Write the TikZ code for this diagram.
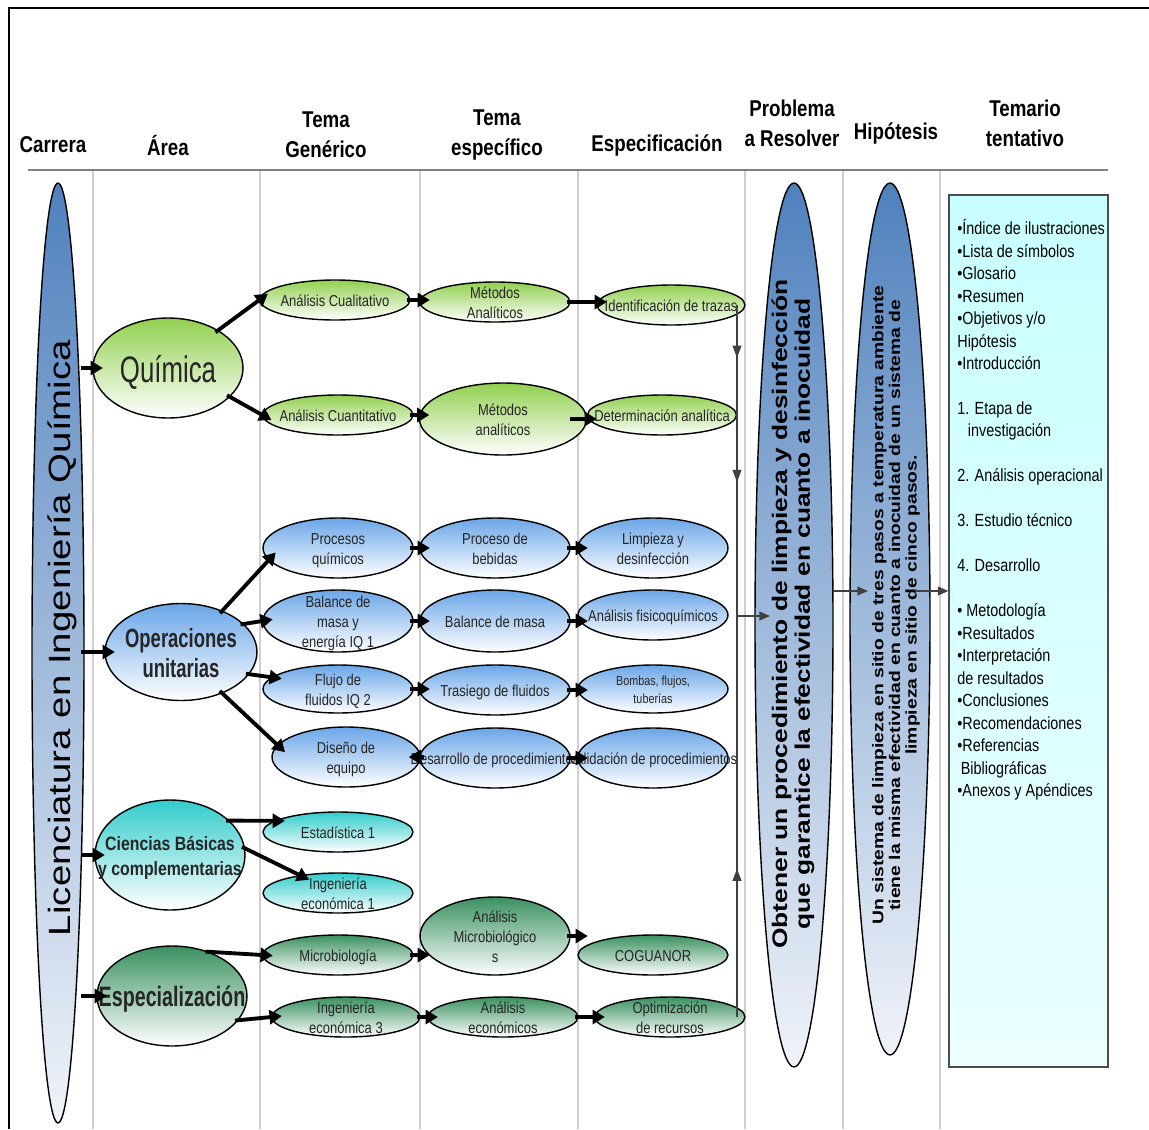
\documentclass[tikz,border=0pt]{standalone}
\usepackage{fontspec}
\setmainfont{Liberation Sans}
\newfontfamily\narrowfont[FakeStretch=0.82]{Liberation Sans}
\newfontfamily\condfont[FakeStretch=0.7]{Liberation Sans}
\newfontfamily\widefont[FakeStretch=1.25]{Liberation Sans}
\usetikzlibrary{arrows.meta, shapes.geometric, calc, decorations.markings}
\definecolor{carblue}{HTML}{4F81BD}
\definecolor{paleblue}{HTML}{F0F3F9}
\definecolor{qgreen}{HTML}{92D050}
\definecolor{opblue}{HTML}{6AA6E8}
\definecolor{cbteal}{HTML}{33CCCC}
\definecolor{spgreen}{HTML}{3A9160}
\definecolor{colgray}{HTML}{CFCFCF}
\definecolor{rulegray}{HTML}{808080}
\definecolor{boxcyan}{HTML}{C8FFFF}
% text that does not size its ellipse
\newcommand{\otext}[1]{\smash{\makebox[0pt]{\raisebox{-0.4em}{\begin{tabular}{@{}c@{}}#1\end{tabular}}}}}

\begin{document}
\begin{tikzpicture}[x=0.02cm, y=-0.02cm,
  oval/.style={ellipse, draw=black, line width=0.8pt, inner sep=0pt,
    text=black!85, font=\narrowfont\fontsize{9}{11.4}\selectfont},
  grn/.style={oval, top color=qgreen, bottom color=white},
  blu/.style={oval, top color=opblue, bottom color=white},
  tea/.style={oval, top color=cbteal, bottom color=white},
  dkg/.style={oval, top color=spgreen, bottom color=white},
  tall/.style={ellipse, draw=black, line width=0.8pt, inner sep=0pt,
    top color=carblue, bottom color=paleblue},
  head/.style={font=\narrowfont\bfseries\fontsize{13}{17}\selectfont, align=center},
  flow/.style={line width=2.2pt, -{Triangle[length=7pt,width=8pt]},
    shorten <=-2pt, shorten >=-6pt},
  rail/.style={line width=0.8pt, draw=black!75},
  conn/.style={rail, -{Triangle[length=6pt,width=5pt]}},
  ]

% Background and frame
\useasboundingbox (0,0) rectangle (1149,1129);
\fill[white] (0,0) rectangle (1149,1129);
\draw[black, line width=1.2pt] (1149,8) -- (9,8) -- (9,1129);

% Column rules
\foreach \cx in {93,260,420,578,745,843,940}
  \draw[colgray, line width=1.3pt] (\cx,170) -- (\cx,1129);
\draw[rulegray, line width=1.5pt] (28,170) -- (1108,170);

% Headers
\node[head] (hcar) at (53,145) {Carrera};
\node[head] (hare) at (168,145) {Área};
\node[head] (hgen) at (326,135) {Tema\\Genérico};
\node[head] (hesp) at (497,135) {Tema\\específico};
\node[head] (hspc) at (657,145) {Especificación};
\node[head] (hpro) at (792,123) {Problema\\a Resolver};
\node[head] (hhip) at (896,133) {Hipótesis};
\node[head] (htem) at (1025,123) {Temario\\tentativo};

% Carrera
\node[tall, minimum width=1.04cm, minimum height=18.8cm] (lic) at (58,653) {};
\node[rotate=90, font=\widefont\fontsize{17.5}{20}\selectfont] (lictxt) at (62,638)
  {Licenciatura en Ingeniería Química};

% Areas
\node[grn, minimum width=3cm, minimum height=2cm,
  font=\condfont\fontsize{21}{24}\selectfont] (quim) at (168,368) {\otext{Química}};
\node[blu, minimum width=3.04cm, minimum height=1.94cm,
  font=\condfont\bfseries\fontsize{15}{17}\selectfont] (oper) at (181,652) {\otext{Operaciones\\unitarias}};
\node[tea, minimum width=3cm, minimum height=2.2cm,
  font=\narrowfont\bfseries\fontsize{11}{14}\selectfont] (cien) at (170,855) {\otext{Ciencias Básicas\\y complementarias}};
\node[dkg, minimum width=3cm, minimum height=2cm,
  font=\condfont\bfseries\fontsize{16}{19}\selectfont] (esp) at (172,996) {\otext{Especialización}};

% Tema generico
\node[grn, minimum width=3cm, minimum height=0.8cm] (cual) at (335,300) {\otext{Análisis Cualitativo}};
\node[grn, minimum width=3cm, minimum height=0.8cm] (cuan) at (338,415) {\otext{Análisis Cuantitativo}};
\node[blu, minimum width=3cm, minimum height=1.2cm] (proc) at (338,548) {\otext{Procesos\\químicos}};
\node[blu, minimum width=3cm, minimum height=1.24cm] (bal) at (338,621) {\otext{Balance de\\masa y\\energía IQ 1}};
\node[blu, minimum width=3cm, minimum height=0.96cm] (flu) at (338,689) {\otext{Flujo de\\fluidos IQ 2}};
\node[blu, minimum width=2.96cm, minimum height=1.2cm] (dis) at (346,757) {\otext{Diseño de\\equipo}};
\node[tea, minimum width=3cm, minimum height=0.8cm] (est) at (338,832) {\otext{Estadística 1}};
\node[tea, minimum width=3cm, minimum height=0.8cm] (ieco1) at (338,893) {\otext{Ingeniería\\económica 1}};
\node[dkg, minimum width=3cm, minimum height=0.8cm] (micro) at (338,955) {\otext{Microbiología}};
\node[dkg, minimum width=2.96cm, minimum height=0.8cm] (ieco3) at (346,1017) {\otext{Ingeniería\\económica 3}};

% Tema especifico
\node[grn, minimum width=3cm, minimum height=0.8cm] (meta) at (495,302) {\otext{Métodos\\Analíticos}};
\node[grn, minimum width=3.34cm, minimum height=1.44cm] (metb) at (503,419) {\otext{Métodos\\analíticos}};
\node[blu, minimum width=3cm, minimum height=1.2cm] (beb) at (495,548) {\otext{Proceso de\\bebidas}};
\node[blu, minimum width=3cm, minimum height=1.24cm] (bmas) at (495,621) {\otext{Balance de masa}};
\node[blu, minimum width=3cm, minimum height=1cm] (tras) at (495,690) {\otext{Trasiego de fluidos}};
\node[blu, minimum width=3cm, minimum height=1.2cm] (desa) at (495,758) {\otext{Desarrollo de procedimientos}};
\node[dkg, minimum width=3cm, minimum height=1.56cm] (amic) at (495,936) {\otext{Análisis\\Microbiológico\\s}};
\node[dkg, minimum width=3cm, minimum height=0.8cm] (aeco) at (503,1017) {\otext{Análisis\\económicos}};

% Especificacion
\node[grn, minimum width=2.96cm, minimum height=0.8cm] (iden) at (671,305) {\otext{Identificación de trazas}};
\node[grn, minimum width=2.98cm, minimum height=0.8cm] (det) at (662,415) {\otext{Determinación analítica}};
\node[blu, minimum width=3cm, minimum height=1.2cm] (limp) at (653,548) {\otext{Limpieza y\\desinfección}};
\node[blu, minimum width=3cm, minimum height=1cm] (afis) at (653,615) {\otext{Análisis fisicoquímicos}};
\node[blu, minimum width=3cm, minimum height=0.96cm,
  font=\narrowfont\fontsize{7.5}{10}\selectfont] (bomb) at (653,689) {\otext{Bombas, flujos,\\tuberías}};
\node[blu, minimum width=3cm, minimum height=1.2cm] (vali) at (653,758) {\otext{Validación de procedimientos}};
\node[dkg, minimum width=3cm, minimum height=0.8cm] (cogu) at (653,955) {\otext{COGUANOR}};
\node[dkg, minimum width=3cm, minimum height=0.8cm] (opti) at (670,1017) {\otext{Optimización\\de recursos}};

% Problema and Hipotesis
\node[tall, minimum width=1.56cm, minimum height=17.68cm] (prob) at (794,625) {};
\node[rotate=90, align=center, font=\widefont\bfseries\fontsize{12}{13}\selectfont] (probtxt) at (793,614)
  {Obtener un procedimiento de limpieza y desinfección\\que garantice la efectividad en cuanto a inocuidad};
\node[tall, minimum width=1.6cm, minimum height=17.44cm] (hip) at (890,619) {};
\node[rotate=90, align=center, font=\widefont\bfseries\fontsize{8.8}{9.5}\selectfont] (hiptxt) at (896,605)
  {Un sistema de limpieza en sitio de tres pasos a temperatura ambiente\\tiene la misma efectividad en cuanto a inocuidad de un sistema de\\limpieza en sitio de cinco pasos.};

% Temario
\node[draw=black!70, line width=0.8pt, top color=boxcyan, bottom color=boxcyan!35,
  minimum width=3.18cm, minimum height=17.44cm, inner sep=0pt] (tem) at (1028.5,631) {};
\node[anchor=north west, align=left, inner sep=0pt,
  font=\narrowfont\fontsize{10}{12.8}\selectfont] (temtxt) at (957,219) {%
•Índice de ilustraciones\\
•Lista de símbolos\\
•Glosario\\
•Resumen\\
•Objetivos y/o\\
Hipótesis\\
•Introducción\\[12.8pt]
1. Etapa de\\
\hspace*{6pt}investigación\\[12.8pt]
2. Análisis operacional\\[12.8pt]
3. Estudio técnico\\[12.8pt]
4. Desarrollo\\[12.8pt]
• Metodología\\
•Resultados\\
•Interpretación\\
de resultados\\
•Conclusiones\\
•Recomendaciones\\
•Referencias\\
\hspace*{2pt}Bibliográficas\\
•Anexos y Apéndices};

% Carrera to areas
\draw[flow] (lic.east |- quim.west) -- (quim.west);
\draw[flow] (lic.east |- oper.west) -- (oper.west);
\draw[flow] (lic.east |- cien.west) -- (cien.west);
\draw[flow] (lic.east |- esp.west) -- (esp.west);

% Areas to tema generico
\draw[flow] (quim.37) -- (cual.west);
\draw[flow] (quim.-25) -- (cuan.west);
\draw[flow] (oper.45) -- (proc.190);
\draw[flow] (oper.24) -- (bal.west);
\draw[flow] (oper.-18) -- (flu.170);
\draw[flow] (oper.-45) -- (dis.170);
\draw[flow] (cien.30) -- (est.170);
\draw[flow] (cien.5) -- (ieco1.155);
\draw[flow] (esp.50) -- (micro.west);
\draw[flow] (esp.-20) -- (ieco3.west);

% Tema generico to tema especifico
\draw[flow] (cual.east) -- (cual.east -| meta.west);
\draw[flow] (cuan.east) -- (cuan.east -| metb.west);
\draw[flow] (proc.east) -- (proc.east -| beb.west);
\draw[flow] (bal.east) -- (bal.east -| bmas.west);
\draw[flow] (flu.east) -- (flu.east -| tras.west);
\draw[flow] (dis.east) -- (dis.east -| desa.west);
\draw[flow] (micro.east) -- (micro.east -| amic.west);
\draw[flow] (ieco3.east) -- (ieco3.east -| aeco.west);

% Tema especifico to especificacion
\draw[flow] (meta.east) -- (meta.east -| iden.west);
\draw[flow, shorten <=0pt, shorten >=0pt] ($(metb.east)+(-17,0)$) -- ($(metb.east -| det.west)+(10,0)$);
\draw[flow] (beb.east) -- (beb.east -| limp.west);
\draw[flow] (bmas.east) -- (bmas.east -| afis.west);
\draw[flow] (tras.east) -- (tras.east -| bomb.west);
\draw[flow] (desa.east) -- (desa.east -| vali.west);
\draw[flow] (amic.east) -- (amic.east -| cogu.west);
\draw[flow] (aeco.east) -- (aeco.east -| opti.west);

% Rails into the problem
\coordinate (junc) at (737,616);
\coordinate (probin) at (770,616);
\coordinate (probout) at (833,591);
\coordinate (hipin) at (868,591);
\coordinate (hipout) at (915,591);
\draw[rail, postaction={decorate}, decoration={markings,
  mark=at position 0.17 with {\arrow{Triangle[length=7pt,width=5pt]}},
  mark=at position 0.57 with {\arrow{Triangle[length=7pt,width=5pt]}}}]
  (iden.east -| junc) -- (junc);
\draw[rail, postaction={decorate}, decoration={markings,
  mark=at position 0.37 with {\arrow{Triangle[length=7pt,width=5pt]}}}]
  (opti.east -| junc) -- (junc);
\draw[conn] (junc) -- (probin);
\draw[conn] (probout) -- (hipin);
\draw[conn] (hipout) -- (hipout -| tem.west);

\end{tikzpicture}
\end{document}
